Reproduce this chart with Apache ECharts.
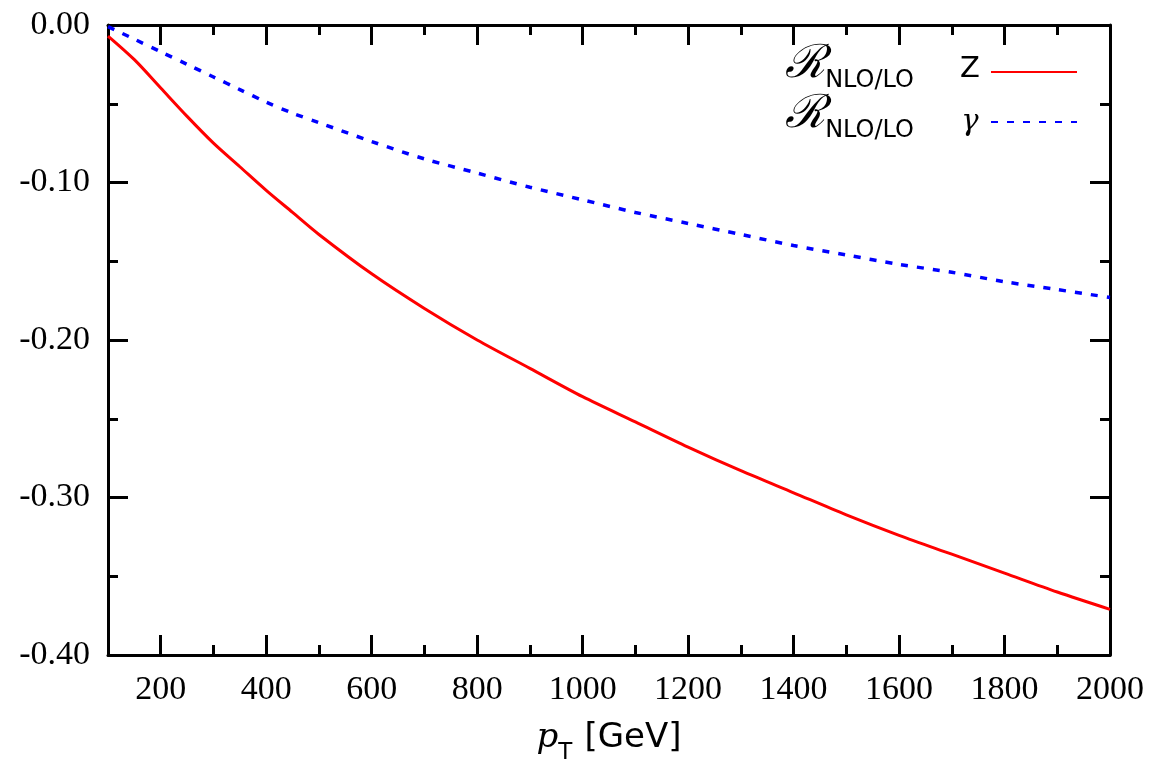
<!DOCTYPE html>
<html><head><meta charset="utf-8">
<script src="https://cdn.jsdelivr.net/npm/echarts@6/dist/echarts.min.js"></script>
<style>html,body{margin:0;padding:0;background:#fff}#c{width:1156px;height:762px}</style>
</head><body><div id="c"></div>
<script>
const pT = [100,150,200,250,300,350,400,450,500,600,700,800,900,1000,1100,1200,1300,1400,1500,1600,1700,1800,1900,2000];
const ratioZ = [-0.007,-0.022,-0.040,-0.058,-0.075,-0.090,-0.105,-0.119,-0.133,-0.158,-0.180,-0.200,-0.218,-0.236,-0.252,-0.268,-0.283,-0.297,-0.311,-0.324,-0.336,-0.348,-0.360,-0.371];
const ratioGamma = [-0.001,-0.009,-0.017,-0.025,-0.033,-0.041,-0.049,-0.056,-0.062,-0.074,-0.085,-0.094,-0.103,-0.111,-0.119,-0.126,-0.133,-0.140,-0.146,-0.152,-0.157,-0.163,-0.168,-0.173];
const seriesNames = ['Z', 'γ'];
const xMajorTicks = [200,400,600,800,1000,1200,1400,1600,1800,2000];
const xMinorTicks = [300,500,700,900,1100,1300,1500,1700,1900];
const xRange = [100, 2000];
const yRange = [-0.4, 0];
const yStep = 0.1;

const serif = 'Liberation Serif';
const sans = 'DejaVu Sans';
const black = '#000';

function xAxisDef(pos, ticks, len, showLine, showLabel) {
  return {
    type: 'value', position: pos, min: xRange[0], max: xRange[1],
    axisLine: {show: showLine, onZero: false, lineStyle: {color: black, width: 3}},
    axisTick: {show: true, inside: true, length: len, customValues: ticks, lineStyle: {color: black, width: 3}},
    axisLabel: showLabel ? {show: true, customValues: ticks, margin: 18, fontFamily: serif, fontSize: 34, color: black,
      formatter: v => String(v)} : {show: false},
    splitLine: {show: false}
  };
}
const xAxes = [
  xAxisDef('bottom', xMajorTicks, 20, true, true),
  xAxisDef('bottom', xMinorTicks, 10, false, false),
  xAxisDef('top', xMajorTicks, 20, true, false),
  xAxisDef('top', xMinorTicks, 10, false, false)
];
xAxes[0].name = '{p|p}{t|T}{sp| }{g|[GeV]}';
xAxes[0].nameLocation = 'middle';
xAxes[0].nameGap = 66;
xAxes[0].nameTextStyle = {
  color: black,
  rich: {
    p: {fontFamily: 'DejaVu Serif', fontStyle: 'italic', fontSize: 34, lineHeight: 40, verticalAlign: 'top', color: black},
    t: {fontFamily: sans, fontSize: 23, lineHeight: 26, verticalAlign: 'bottom', color: black},
    sp: {width: 12, lineHeight: 44},
    g: {fontFamily: sans, fontSize: 34, lineHeight: 40, verticalAlign: 'top', color: black}
  }
};

function yAxisDef(pos, showLabel) {
  return {
    type: 'value', position: pos, min: yRange[0], max: yRange[1], interval: yStep,
    axisLine: {show: true, onZero: false, lineStyle: {color: black, width: 3}},
    axisTick: {show: true, inside: true, length: 20, lineStyle: {color: black, width: 3}},
    minorTick: {show: true, splitNumber: 2, length: 10, lineStyle: {color: black, width: 3}},
    axisLabel: showLabel ? {show: true, margin: 18, fontFamily: serif, fontSize: 34, color: black,
      formatter: v => v.toFixed(2)} : {show: false},
    splitLine: {show: false}, minorSplitLine: {show: false}
  };
}

const chart = echarts.init(document.getElementById('c'), null, {renderer: 'canvas'});
chart.setOption({
  animation: false,
  backgroundColor: '#fff',
  grid: {left: 108, right: 46, top: 25, bottom: 107, containLabel: false, outerBoundsMode: 'none'},
  xAxis: xAxes,
  yAxis: [yAxisDef('left', true), yAxisDef('right', false)],
  legend: {
    orient: 'vertical', right: 78, top: 42, padding: 0,
    align: 'right', itemWidth: 86, itemHeight: 14, itemGap: -10,
    itemStyle: {opacity: 0},
    data: seriesNames,
    formatter: name => '{R|ℛ}{s|NLO/LO}{sp| }' + (name === 'Z' ? '{z|Z}' : '{g|γ}'),
    textStyle: {
      color: black,
      rich: {
        R: {fontFamily: 'DejaVu Serif', fontStyle: 'italic', fontSize: 46, lineHeight: 20, verticalAlign: 'middle', padding: [0, 0, 14, 0], color: black},
        s: {fontFamily: sans, fontSize: 24, lineHeight: 20, verticalAlign: 'middle', padding: [18, 0, 0, 0], color: black},
        sp: {width: 40, lineHeight: 46},
        z: {fontFamily: sans, fontSize: 29, lineHeight: 20, verticalAlign: 'middle', padding: [0, 0, 5, 0], width: 32, align: 'left', color: black},
        g: {fontFamily: 'DejaVu Serif', fontStyle: 'italic', fontSize: 29, lineHeight: 20, verticalAlign: 'middle', padding: [1, 0, 0, 0], width: 32, align: 'left', color: black}
      }
    }
  },
  series: [
    {
      name: seriesNames[0], type: 'line', xAxisIndex: 0, yAxisIndex: 0,
      symbol: 'none', smooth: 0.3,
      data: pT.map((x, i) => [x, ratioZ[i]]),
      lineStyle: {color: '#ff0000', width: 3},
      itemStyle: {color: '#ff0000'}
    },
    {
      name: seriesNames[1], type: 'line', xAxisIndex: 0, yAxisIndex: 0,
      symbol: 'none', smooth: 0.3,
      data: pT.map((x, i) => [x, ratioGamma[i]]),
      lineStyle: {color: '#0000ff', width: 3.5, type: [7, 9]},
      itemStyle: {color: '#0000ff'}
    }
  ]
});
</script></body></html>
